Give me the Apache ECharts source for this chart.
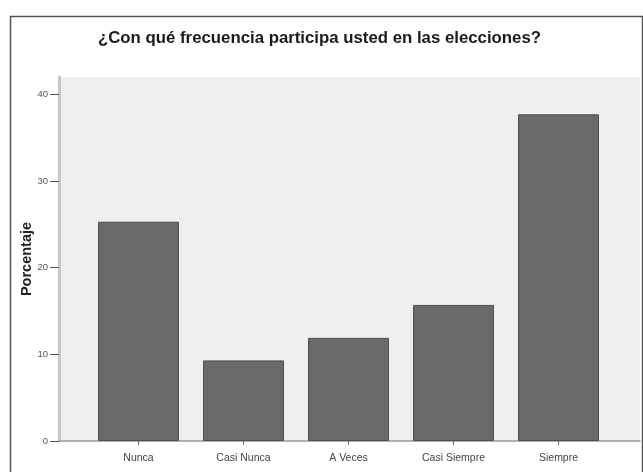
<!DOCTYPE html>
<html><head><meta charset="utf-8">
<script src="https://cdn.jsdelivr.net/npm/echarts@6/dist/echarts.min.js"></script>
<style>html,body{margin:0;padding:0;background:#fff}#c{width:643px;height:472px}</style>
</head><body><div id="c"></div>
<script>
const titleText = '¿Con qué frecuencia participa usted en las elecciones?';
const yAxisName = 'Porcentaje';
const categories = ['Nunca', 'Casi Nunca', 'A Veces', 'Casi Siempre', 'Siempre'];
const values = [25.3, 9.3, 11.9, 15.7, 37.7];
const yTicks = [0, 10, 20, 30, 40];

const font = '"Liberation Sans", Arial, sans-serif';
const chart = echarts.init(document.getElementById('c'), null, {renderer: 'canvas'});
chart.setOption({
  animation: false,
  backgroundColor: '#fff',
  textStyle: {fontFamily: font},
  title: {
    text: titleText, left: 98, top: 30, padding: 0,
    textStyle: {fontSize: 16.8, fontWeight: 'bold', color: '#1a1a1a', fontFamily: font}
  },
  graphic: [{
    type: 'rect', left: 8, top: 14, silent: true,
    shape: {width: 632, height: 470},
    style: {fill: 'none', stroke: '#555', lineWidth: 1.5}
  }],
  grid: [
    {left: 59, top: 77, right: 3, bottom: 31, show: true, backgroundColor: '#efefef', borderWidth: 0},
    {left: 86, top: 77, right: 32, bottom: 31}
  ],
  xAxis: [
    {gridIndex: 0, type: 'value', min: 0, max: 1, axisLine: {show: true, lineStyle: {color: '#999', width: 1.5}},
     axisTick: {show: false}, axisLabel: {show: false}, splitLine: {show: false}},
    {gridIndex: 1, type: 'category', data: categories,
     axisLine: {show: false},
     axisTick: {show: true, alignWithLabel: true, length: 4, lineStyle: {color: '#666'}},
     axisLabel: {fontSize: 10.5, color: '#444', margin: 12, fontFamily: font}}
  ],
  yAxis: [
    {gridIndex: 0, type: 'value', min: 0, max: 42, interval: 10,
     name: yAxisName, nameLocation: 'middle', nameGap: 25, nameMoveOverlap: false,
     nameTextStyle: {fontSize: 14.5, fontWeight: 'bold', color: '#222', fontFamily: font},
     axisLine: {show: true, lineStyle: {color: '#c8c8c8', width: 3}},
     axisTick: {show: true, length: 9, lineStyle: {color: '#555'}, customValues: yTicks},
     axisLabel: {fontSize: 9.5, color: '#555', margin: 11, customValues: yTicks, fontFamily: font},
     splitLine: {show: false}},
    {gridIndex: 1, type: 'value', min: 0, max: 42, show: false}
  ],
  series: [{
    type: 'bar', xAxisIndex: 1, yAxisIndex: 1, data: values, barWidth: 81,
    itemStyle: {color: '#6a6a6a', borderColor: '#4f4f4f', borderWidth: 1}
  }]
});
</script></body></html>
